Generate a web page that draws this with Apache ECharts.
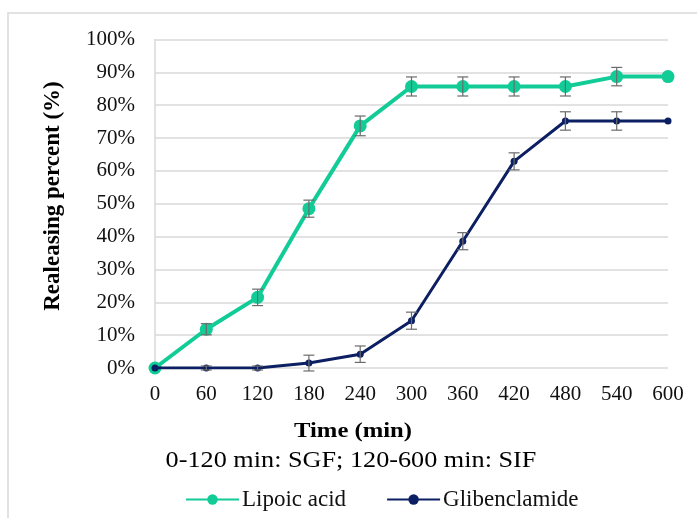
<!DOCTYPE html>
<html><head><meta charset="utf-8">
<script src="https://cdn.jsdelivr.net/npm/echarts@6/dist/echarts.min.js"></script>
<style>html,body{margin:0;padding:0;background:#fff}#c{width:697px;height:518px}</style>
</head><body><div id="c"></div>
<script>
var times = [0, 60, 120, 180, 240, 300, 360, 420, 480, 540, 600];
var lipoic = [0, 11.8, 21.5, 48.5, 73.7, 85.7, 85.7, 85.7, 85.7, 88.7, 88.7];
var lipoicErr = [0, 1.7, 2.5, 2.6, 3.0, 2.9, 2.9, 2.9, 2.9, 2.8, 0];
var glib = [0, 0, 0, 1.5, 4.2, 14.4, 38.6, 62.9, 75.2, 75.2, 75.2];
var glibErr = [0, 0.6, 0.6, 2.4, 2.5, 2.6, 2.6, 2.6, 2.8, 2.8, 0];
var yTicks = [0, 10, 20, 30, 40, 50, 60, 70, 80, 90, 100];

var FONT = '"Liberation Serif", "Times New Roman", serif';
var GREEN = '#12CC97', NAVY = '#0B1F62';

function pairs(y) { return times.map(function (t, i) { return [t, y[i]]; }); }
function errData(y, e) { return times.map(function (t, i) { return [t, y[i] - e[i], y[i] + e[i]]; }).filter(function (d, i) { return e[i] > 0; }); }
function errRender(params, api) {
  var x = api.value(0), lo = api.coord([x, api.value(1)]), hi = api.coord([x, api.value(2)]);
  var w = 5.5, st = { stroke: '#6b6b6b', lineWidth: 1.2 };
  return { type: 'group', children: [
    { type: 'line', shape: { x1: lo[0], y1: lo[1], x2: hi[0], y2: hi[1] }, style: st },
    { type: 'line', shape: { x1: lo[0] - w, y1: lo[1], x2: lo[0] + w, y2: lo[1] }, style: st },
    { type: 'line', shape: { x1: hi[0] - w, y1: hi[1], x2: hi[0] + w, y2: hi[1] }, style: st }
  ]};
}

var chart = echarts.init(document.getElementById('c'));
chart.setOption({
  animation: false,
  backgroundColor: '#fff',
  grid: { left: 155, right: 29, top: 39.5, bottom: 150, containLabel: false },
  xAxis: {
    type: 'value', min: 0, max: 600, interval: 60,
    axisLine: { show: false }, axisTick: { show: false }, splitLine: { show: false },
    axisLabel: { color: '#111', fontFamily: FONT, fontSize: 21, margin: 16 }
  },
  yAxis: {
    type: 'value', min: 0, max: 100, interval: 10,
    axisLine: { show: true, lineStyle: { color: '#d9d9d9', width: 1.5 } }, axisTick: { show: false },
    splitLine: { lineStyle: { color: '#d9d9d9', width: 1.5 } },
    axisLabel: { color: '#111', fontFamily: FONT, fontSize: 21, margin: 20, formatter: function (v) { return yTicks.indexOf(v) >= 0 ? v + '%' : ''; } }
  },
  legend: {
    data: ['Lipoic acid', 'Glibenclamide'], left: 180, top: 483, itemWidth: 53, itemHeight: 13, itemGap: 40,
    textStyle: { fontFamily: FONT, fontSize: 23, color: '#111', padding: [0, 0, 0, -2] }
  },
  graphic: [
    { type: 'rect', shape: { x: 8, y: 13, width: 720, height: 540 }, style: { fill: 'none', stroke: '#d9d9d9', lineWidth: 1.5 }, z: -1 },
    { type: 'text', x: 353, y: 431, scaleX: 1.12, style: { text: 'Time (min)', font: 'bold 22px ' + FONT, fill: '#000', align: 'center', verticalAlign: 'middle' } },
    { type: 'text', x: 351, y: 461, scaleX: 1.14, style: { text: '0-120 min: SGF; 120-600 min: SIF', font: '23px ' + FONT, fill: '#000', align: 'center', verticalAlign: 'middle' } },
    { type: 'text', x: 53, y: 196, rotation: Math.PI / 2, style: { text: 'Realeasing percent (%)', font: 'bold 23px ' + FONT, fill: '#000', align: 'center', verticalAlign: 'middle' } }
  ],
  series: [
    { name: 'Lipoic acid', type: 'line', data: pairs(lipoic), color: GREEN, symbol: 'circle', symbolSize: 13, lineStyle: { width: 4, color: GREEN }, itemStyle: { color: GREEN }, z: 3 },
    { name: 'Glibenclamide', type: 'line', data: pairs(glib), color: NAVY, symbol: 'circle', symbolSize: 7, lineStyle: { width: 3, color: NAVY }, itemStyle: { color: NAVY }, z: 4 },
    { type: 'custom', renderItem: errRender, data: errData(lipoic, lipoicErr), z: 5 },
    { type: 'custom', renderItem: errRender, data: errData(glib, glibErr), z: 5 }
  ]
});
</script></body></html>
